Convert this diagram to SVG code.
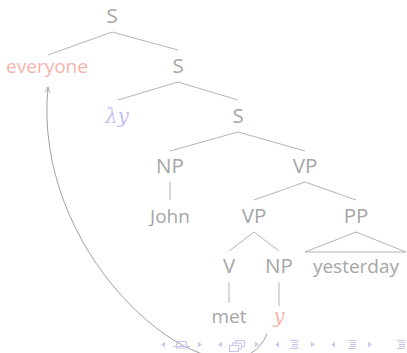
<svg xmlns="http://www.w3.org/2000/svg" width="407" height="353" viewBox="0 0 407 353">
  <style>
    .lbl { font-family: "Open Sans", "DejaVu Sans", sans-serif; font-size: 19px; fill: #a6a6a6; text-anchor: middle; }
    .cat { font-size: 20.5px; }
    .red { fill: #f4b4aa; }
    .math { font-family: "DejaVu Serif", "Liberation Serif", serif; font-style: italic; font-size: 19.5px; text-anchor: middle; }
    .blue { fill: #c2c2f2; }
    .edge { stroke: #b4b4b4; stroke-width: 1; fill: none; }
    .nav { fill: none; stroke: #c4c4ee; stroke-width: 1; }
    .navf { fill: #ccccf2; stroke: none; }
  </style>
  <defs>
    <marker id="arrow" viewBox="0 0 10 10" refX="9" refY="5" markerWidth="7" markerHeight="7" orient="auto" markerUnits="userSpaceOnUse">
      <path d="M1,1.5 Q6,4 9,5 Q6,6 1,8.5" fill="none" stroke="#9a9a9a" stroke-width="1"/>
    </marker>
  </defs>

  <!-- tree edges and the movement arrow -->
  <g id="connectors">
    <path class="edge" d="M112,32 L48,55 M112,32 L178,50"/>
    <path class="edge" d="M178,82 L118,100 M178,82 L238,100"/>
    <path class="edge" d="M238,132 L170,151 M238,132 L305,151"/>
    <path class="edge" d="M170,182 L170,200"/>
    <path class="edge" d="M305,182 L254,200 M305,182 L356,200"/>
    <path class="edge" d="M254,232 L229,251 M254,232 L279,251"/>
    <path class="edge" d="M356,232 L305,252 L406,252 Z"/>
    <path class="edge" d="M229,282 L229,303"/>
    <path class="edge" d="M279,282 L279,306"/>
    <path d="M267,334 C230,420 30,270 48,87" fill="none" stroke="#a0a0a0" stroke-width="1" marker-end="url(#arrow)"/>
  </g>

  <g id="s-root"><text class="lbl cat" x="112" y="22.5">S</text></g>
  <g id="everyone"><text class="lbl red" x="47" y="72.5">everyone</text></g>
  <g id="s-2"><text class="lbl cat" x="178" y="72.5">S</text></g>
  <g id="lambda-y"><text class="math blue" x="117" y="123">λy</text></g>
  <g id="s-3"><text class="lbl cat" x="238" y="122.5">S</text></g>
  <g id="np-1"><text class="lbl cat" x="170" y="173">NP</text></g>
  <g id="vp-1"><text class="lbl cat" x="305" y="173">VP</text></g>
  <g id="john"><text class="lbl" x="170" y="223">John</text></g>
  <g id="vp-2"><text class="lbl cat" x="254" y="223">VP</text></g>
  <g id="pp"><text class="lbl cat" x="356" y="223">PP</text></g>
  <g id="v"><text class="lbl cat" x="229" y="273">V</text></g>
  <g id="np-2"><text class="lbl cat" x="279" y="273">NP</text></g>
  <g id="yesterday"><text class="lbl" x="356" y="273">yesterday</text></g>
  <g id="met"><text class="lbl" x="229" y="323">met</text></g>
  <g id="y"><text class="math red" x="279" y="323">y</text></g>

  <!-- navigation symbols -->
  <g id="navigation">
    <path class="navf" d="M165,341.5 L161,344.5 L165,347.5 Z"/>
    <rect class="nav" x="176.5" y="341.5" width="10" height="6.5"/>
    <path class="nav" d="M173,346.5 H190"/>
    <path class="navf" d="M198,341.5 L202,344.5 L198,347.5 Z"/>

    <path class="navf" d="M222,341.5 L218,344.5 L222,347.5 Z"/>
    <rect class="nav" x="229.5" y="345.5" width="9" height="6"/>
    <path class="nav" d="M232.5,345.5 V343 H241.5 V349 H238.5"/>
    <path class="nav" d="M235.5,343 V340.5 H244.5 V346.5 H241.5"/>
    <path class="navf" d="M255,341.5 L259,344.5 L255,347.5 Z"/>

    <path class="navf" d="M279,341.5 L275,344.5 L279,347.5 Z"/>
    <path class="nav" d="M290,340.5 H298 M292,342.5 H298 M292,344.5 H298 M292,346.5 H298 M290,348.5 H298"/>
    <path class="navf" d="M311,341.5 L315,344.5 L311,347.5 Z"/>

    <path class="navf" d="M335,341.5 L331,344.5 L335,347.5 Z"/>
    <path class="nav" d="M348,340.5 H356 M350,342.5 H356 M350,344.5 H356 M350,346.5 H356 M348,348.5 H356"/>
    <path class="navf" d="M368,341.5 L372,344.5 L368,347.5 Z"/>

    <path class="nav" d="M397,340.5 H405 M399,342.5 H405 M399,344.5 H405 M399,346.5 H405 M397,348.5 H405"/>
  </g>
</svg>
